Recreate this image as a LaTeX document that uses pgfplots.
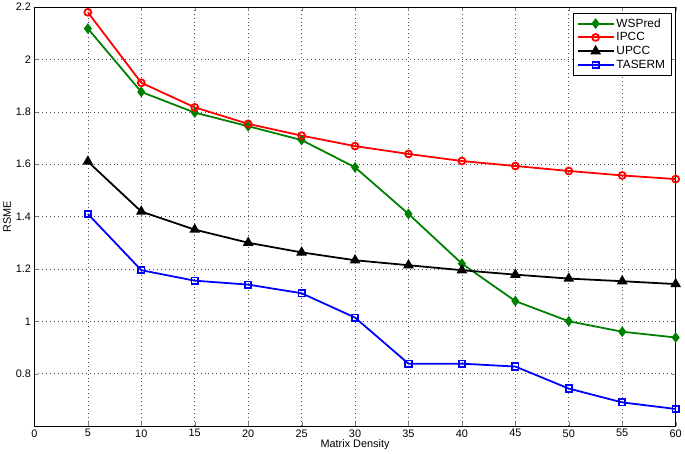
\documentclass[border=0pt]{standalone}
\usepackage{pgfplots}
\pgfplotsset{compat=1.18}
\usepackage{fontspec}
\setmainfont{Liberation Sans}
\definecolor{mgreen}{RGB}{0,128,0}
\begin{document}
\begin{tikzpicture}[x=1bp,y=1bp]
\begin{axis}[
  scale only axis,
  width=646bp, height=422bp,
  xmin=0, xmax=60, ymin=0.6, ymax=2.2,
  xtick={0,5,...,60},
  ytick={0.8,1,1.2,1.4,1.6,1.8,2,2.2},
  yticklabels={0.8,1,1.2,1.4,1.6,1.8,2,2.2},
  xticklabels={0,5,10,15,20,25,30,35,40,45,50,55,60},
  grid=major,
  major grid style={dash pattern=on 1pt off 3pt, black!70, line width=0.6pt},
  tick align=inside,
  tick pos=both,
  major tick length=4bp,
  axis line style={line width=0.6pt},
  tick label style={font=\fontsize{11}{13}\selectfont},
  label style={font=\fontsize{11}{13}\selectfont},
  xlabel={Matrix Density},
  ylabel={RSME},
  xlabel style={yshift=4bp},
  ylabel style={yshift=-2bp},
  legend style={at={(0.993,0.985)}, anchor=north east, font=\fontsize{12}{14}\selectfont, draw=black, row sep=0pt, inner xsep=4pt, inner ysep=3pt},
  legend cell align=left,
  legend image code/.code={
    \draw[#1, line width=2pt] (0bp,0bp) -- (36bp,0bp);
    \draw[#1, line width=1.8pt] plot coordinates {(18bp,0bp)};},
]
\addplot[line width=1.8pt, color=mgreen, mark=diamond*, mark size=4pt, mark options={fill=mgreen}] coordinates {
(5,2.118) (10,1.876) (15,1.797) (20,1.745) (25,1.692) (30,1.588) (35,1.410) (40,1.220) (45,1.077) (50,1.000) (55,0.960) (60,0.938)};
\addlegendentry{WSPred}
\addplot[line width=1.8pt, color=red, mark=o, mark size=3.5pt] coordinates {
(5,2.180) (10,1.911) (15,1.817) (20,1.754) (25,1.709) (30,1.669) (35,1.639) (40,1.612) (45,1.593) (50,1.574) (55,1.557) (60,1.543)};
\addlegendentry{IPCC}
\addplot[line width=1.8pt, color=black, mark=triangle*, mark size=4.5pt] coordinates {
(5,1.610) (10,1.419) (15,1.350) (20,1.300) (25,1.263) (30,1.233) (35,1.214) (40,1.195) (45,1.178) (50,1.163) (55,1.153) (60,1.142)};
\addlegendentry{UPCC}
\addplot[line width=1.8pt, color=blue, mark=square, mark size=3.2pt] coordinates {
(5,1.410) (10,1.195) (15,1.155) (20,1.140) (25,1.107) (30,1.014) (35,0.838) (40,0.838) (45,0.827) (50,0.743) (55,0.690) (60,0.665)};
\addlegendentry{TASERM}
\end{axis}
\end{tikzpicture}
\end{document}
